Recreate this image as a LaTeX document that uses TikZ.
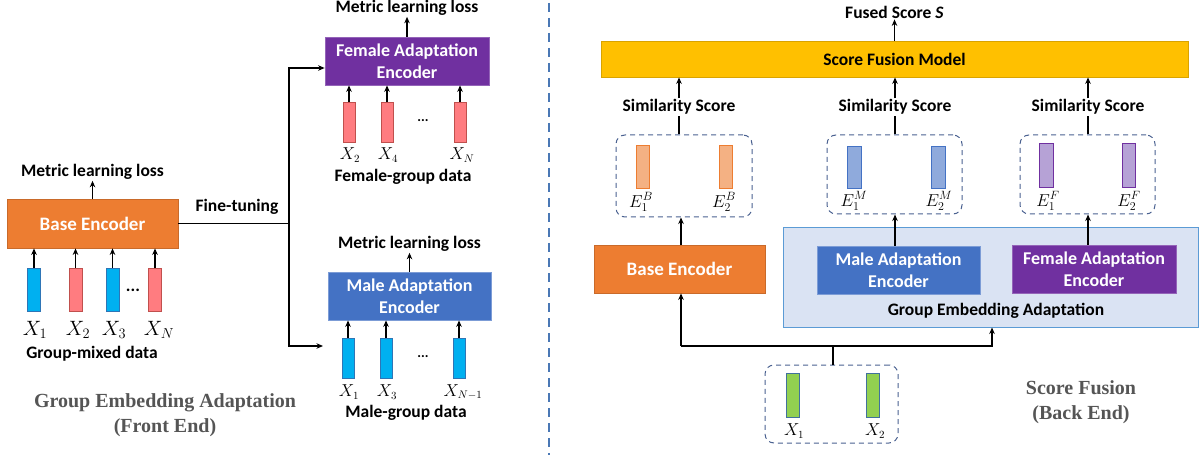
\documentclass[tikz,border=0pt]{standalone}
\usepackage{fontspec}
\setmainfont{Carlito}
\newfontfamily\timesf{Liberation Serif}
\usetikzlibrary{arrows.meta,calc}
\definecolor{cOrange}{HTML}{ED7D31}
\definecolor{cPurple}{HTML}{7030A0}
\definecolor{cBlue}{HTML}{4472C4}
\definecolor{cYellow}{HTML}{FFC000}
\definecolor{cGEAfill}{HTML}{DAE3F3}
\definecolor{cGEAdraw}{HTML}{5B9BD5}
\definecolor{cCyan}{HTML}{00B0F0}
\definecolor{cCyanD}{HTML}{2E75B6}
\definecolor{cRed}{HTML}{FF7C80}
\definecolor{cRedD}{HTML}{C0504D}
\definecolor{cLOrange}{HTML}{F4B183}
\definecolor{cLBlue}{HTML}{8FAADC}
\definecolor{cLPurple}{HTML}{B6A2D6}
\definecolor{cGreen}{HTML}{92D050}
\definecolor{cGreenD}{HTML}{41719C}
\definecolor{cDash}{HTML}{4A6190}
\definecolor{cSep}{HTML}{4A78B5}
\definecolor{cGray}{HTML}{555555}
\newcommand\lblf{\fontsize{17.5}{20}\selectfont\bfseries}
\newcommand\encf{\fontsize{18}{21.5}\selectfont\bfseries}
\newcommand\serf{\timesf\fontsize{20}{25}\selectfont\bfseries}
\tikzset{
  lbl/.style={font=\lblf, inner sep=1pt},
  enc/.style={rectangle, text=white, font=\encf, align=center, inner sep=0pt, line width=0.8pt, minimum height=48pt},
  bar/.style={rectangle, inner sep=0pt, line width=0.8pt, minimum width=13pt},
  mthL/.style={font=\fontsize{19.5}{21}\selectfont, inner sep=0pt},
  mthS/.style={font=\fontsize{16}{18}\selectfont, inner sep=0pt},
  arr/.style={-{Stealth[length=6.5pt,width=5.5pt]}, line width=1.2pt},
  ln/.style={line width=1.2pt},
  dbox/.style={draw=cDash, dash pattern=on 5pt off 4pt, rounded corners=9pt, line width=1pt, inner sep=0pt},
  sertxt/.style={font=\serf, text=cGray, align=center, inner sep=0pt},
}
\begin{document}
\begin{tikzpicture}[x=1pt,y=-1pt]
\useasboundingbox (0,0) rectangle (1202,457);
% ---------------- left: front end ----------------
\node[enc, fill=cOrange, draw=cOrange!85!black, minimum width=171pt, minimum height=49pt, font=\fontsize{19}{22}\selectfont\bfseries] (be1) at (92.5,223.5) {Base Encoder};
\node[lbl] (ml1) at (92.5,172) {Metric learning loss};
\draw[arr] (be1) -- (ml1);
\node[bar, minimum height=43pt, fill=cCyan, draw=cCyanD] (a1) at (34,289.5) {};
\node[bar, minimum height=43pt, fill=cRed, draw=cRedD] (a2) at (75.5,289.5) {};
\node[bar, minimum height=43pt, fill=cCyan, draw=cCyanD] (a3) at (112.5,289.5) {};
\node[bar, minimum height=43pt, fill=cRed, draw=cRedD] (a4) at (155,289.5) {};
\foreach \b in {a1,a2,a3,a4}{\draw[arr] (\b.north) -- (\b.north |- be1.south);}
\node[lbl] (ad) at (133,290) {...};
\node[mthL] (ax1) at (35,330) {$X_1$};
\node[mthL] (ax2) at (78,330) {$X_2$};
\node[mthL] (ax3) at (114,330) {$X_3$};
\node[mthL] (ax4) at (159,330) {$X_N$};
\node[lbl] (gmd) at (92,354) {Group-mixed data};
\node[sertxt] (fe) at (165,415) {Group Embedding Adaptation\\(Front End)};
% fine-tuning
\node[lbl] (ftl) at (237,207) {Fine-tuning};
\coordinate (ft) at (289,223.5);
\coordinate (fttop) at (289,68);
\coordinate (ftbot) at (289,346);
\coordinate (mtgt) at (323,346);
% female encoder
\node[enc, fill=cPurple, draw=cPurple!75!white, minimum width=164pt] (fe1) at (407,61) {Female Adaptation\\Encoder};
\node[lbl] (ml2) at (407,8) {Metric learning loss};
\draw[arr] (fe1) -- (ml2);
\node[bar, minimum height=40pt, minimum width=12pt, fill=cRed, draw=cRedD] (f1) at (349,122) {};
\node[bar, minimum height=40pt, minimum width=12pt, fill=cRed, draw=cRedD] (f2) at (387,122) {};
\node[bar, minimum height=40pt, minimum width=12pt, fill=cRed, draw=cRedD] (f3) at (460,122) {};
\foreach \b in {f1,f2,f3}{\draw[arr] (\b.north) -- (\b.north |- fe1.south);}
\node[lbl, font=\fontsize{14}{16}\selectfont\bfseries] (fd) at (423,121) {...};
\node[mthS] (fx1) at (350,155) {$X_2$};
\node[mthS] (fx2) at (388,155) {$X_4$};
\node[mthS] (fx3) at (462,155) {$X_N$};
\node[lbl] (fgd) at (403,177) {Female-group data};
% male encoder
\node[enc, fill=cBlue, draw=cBlue!70!white, minimum width=163pt] (me1) at (409.5,296) {Male Adaptation\\Encoder};
\node[lbl] (ml3) at (409.5,244) {Metric learning loss};
\draw[arr] (me1) -- (ml3);
\node[bar, minimum height=40pt, minimum width=12pt, fill=cCyan, draw=cCyanD] (m1) at (348,358) {};
\node[bar, minimum height=40pt, minimum width=12pt, fill=cCyan, draw=cCyanD] (m2) at (386,358) {};
\node[bar, minimum height=40pt, minimum width=12pt, fill=cCyan, draw=cCyanD] (m3) at (459,358) {};
\foreach \b in {m1,m2,m3}{\draw[arr] (\b.north) -- (\b.north |- me1.south);}
\node[lbl, font=\fontsize{14}{16}\selectfont\bfseries] (md) at (423,357) {...};
\node[mthS] (mx1) at (349,392) {$X_1$};
\node[mthS] (mx2) at (387,392) {$X_3$};
\node[mthS] (mx3) at (463,392) {$X_{N-1}$};
\node[lbl] (mgd) at (406,413) {Male-group data};
% fine-tuning connectors
\draw[ln] (be1.east) -- (ft);
\draw[arr] (ft) -- (fttop) -- (fttop -| fe1.west);
\draw[arr] (ft) -- (ftbot) -- (mtgt);
% separator
\coordinate (s1) at (549,3);
\coordinate (s2) at (549,455);
\draw[cSep, line width=1.3pt, dash pattern=on 9pt off 6pt] (s1) -- (s2);
% ---------------- right: back end ----------------
\node[rectangle, fill=cYellow, draw=cYellow!85!black, line width=0.8pt, minimum width=587pt, minimum height=36pt, font=\lblf, inner sep=0pt] (sfm) at (894.5,59) {Score Fusion Model};
\node[lbl] (fs) at (894.5,12) {Fused Score \textit{S}};
\draw[arr] (sfm) -- (fs);
\node[lbl] (ss1) at (679,107) {Similarity Score};
\node[lbl] (ss2) at (895,107) {Similarity Score};
\node[lbl] (ss3) at (1088,107) {Similarity Score};
\foreach \s in {ss1,ss2,ss3}{\draw[arr] (\s.north) -- (\s.north |- sfm.south);}
% embedding boxes
\node[dbox, minimum width=136pt, minimum height=82pt] (d1) at (684,176) {};
\node[dbox, minimum width=135pt, minimum height=79pt] (d2) at (894.5,174.5) {};
\node[dbox, minimum width=135pt, minimum height=79pt] (d3) at (1087.5,174.5) {};
\draw[ln] (d1.north -| ss1) -- (ss1.south);
\draw[ln] (d2.north -| ss2) -- (ss2.south);
\draw[ln] (d3.north -| ss3) -- (ss3.south);
\node[bar, minimum height=43pt, fill=cLOrange, draw=cOrange] (e1) at (642.5,166.5) {};
\node[bar, minimum height=43pt, fill=cLOrange, draw=cOrange] (e2) at (725.5,166.5) {};
\node[bar, minimum height=42pt, minimum width=14pt, fill=cLBlue, draw=cBlue] (e3) at (854,167) {};
\node[bar, minimum height=42pt, minimum width=14pt, fill=cLBlue, draw=cBlue] (e4) at (938,167) {};
\node[bar, minimum height=44pt, minimum width=14pt, fill=cLPurple, draw=cPurple] (e5) at (1046,165) {};
\node[bar, minimum height=44pt, minimum width=13pt, fill=cLPurple, draw=cPurple] (e6) at (1128.5,165) {};
\node[mthS, font=\fontsize{17}{19}\selectfont] (el1) at (641,202) {$E_1^B$};
\node[mthS, font=\fontsize{17}{19}\selectfont] (el2) at (724,202) {$E_2^B$};
\node[mthS, font=\fontsize{17}{19}\selectfont] (el3) at (854,201) {$E_1^M$};
\node[mthS, font=\fontsize{17}{19}\selectfont] (el4) at (939,201) {$E_2^M$};
\node[mthS, font=\fontsize{17}{19}\selectfont] (el5) at (1048,201) {$E_1^F$};
\node[mthS, font=\fontsize{17}{19}\selectfont] (el6) at (1129,201) {$E_2^F$};
% encoders
\node[rectangle, fill=cGEAfill, draw=cGEAdraw, line width=1pt, minimum width=415pt, minimum height=99pt, inner sep=0pt] (gea) at (990.5,277.5) {};
\node[lbl] (geal) at (996,311) {Group Embedding Adaptation};
\node[enc, fill=cOrange, draw=cOrange!85!black, minimum width=171pt, font=\fontsize{19}{22}\selectfont\bfseries] (be2) at (679.5,269) {Base Encoder};
\node[enc, fill=cBlue, draw=cBlue!70!white, minimum width=163pt] (me2) at (898.5,270) {Male Adaptation\\Encoder};
\node[enc, fill=cPurple, draw=cPurple!75!white, minimum width=164pt] (fe2) at (1094,269) {Female Adaptation\\Encoder};
\draw[arr] (be2.north -| 681,0) -- (d1.south -| 681,0);
\draw[arr] (me2.north -| ss2) -- (d2.south -| ss2);
\draw[arr] (fe2.north -| ss3) -- (d3.south -| ss3);
% input
\node[dbox, minimum width=133pt, minimum height=78pt] (din) at (831.5,404) {};
\node[bar, minimum height=44pt, fill=cGreen, draw=cGreenD] (g1) at (792.5,395) {};
\node[bar, minimum height=44pt, fill=cGreen, draw=cGreenD] (g2) at (873,395) {};
\node[mthS] (gx1) at (794,431) {$X_1$};
\node[mthS] (gx2) at (875,431) {$X_2$};
\coordinate (jn) at (833,346);
\coordinate (jl) at (681,346);
\coordinate (jr) at (992,346);
\draw[ln] (din.north -| jn) -- (jn);
\draw[arr] (jl) -- (jr) -- (jr |- gea.south);
\draw[arr] (jl) -- (jl |- be2.south);
\node[sertxt] (sf) at (1081,402) {Score Fusion\\(Back End)};
\end{tikzpicture}
\end{document}
